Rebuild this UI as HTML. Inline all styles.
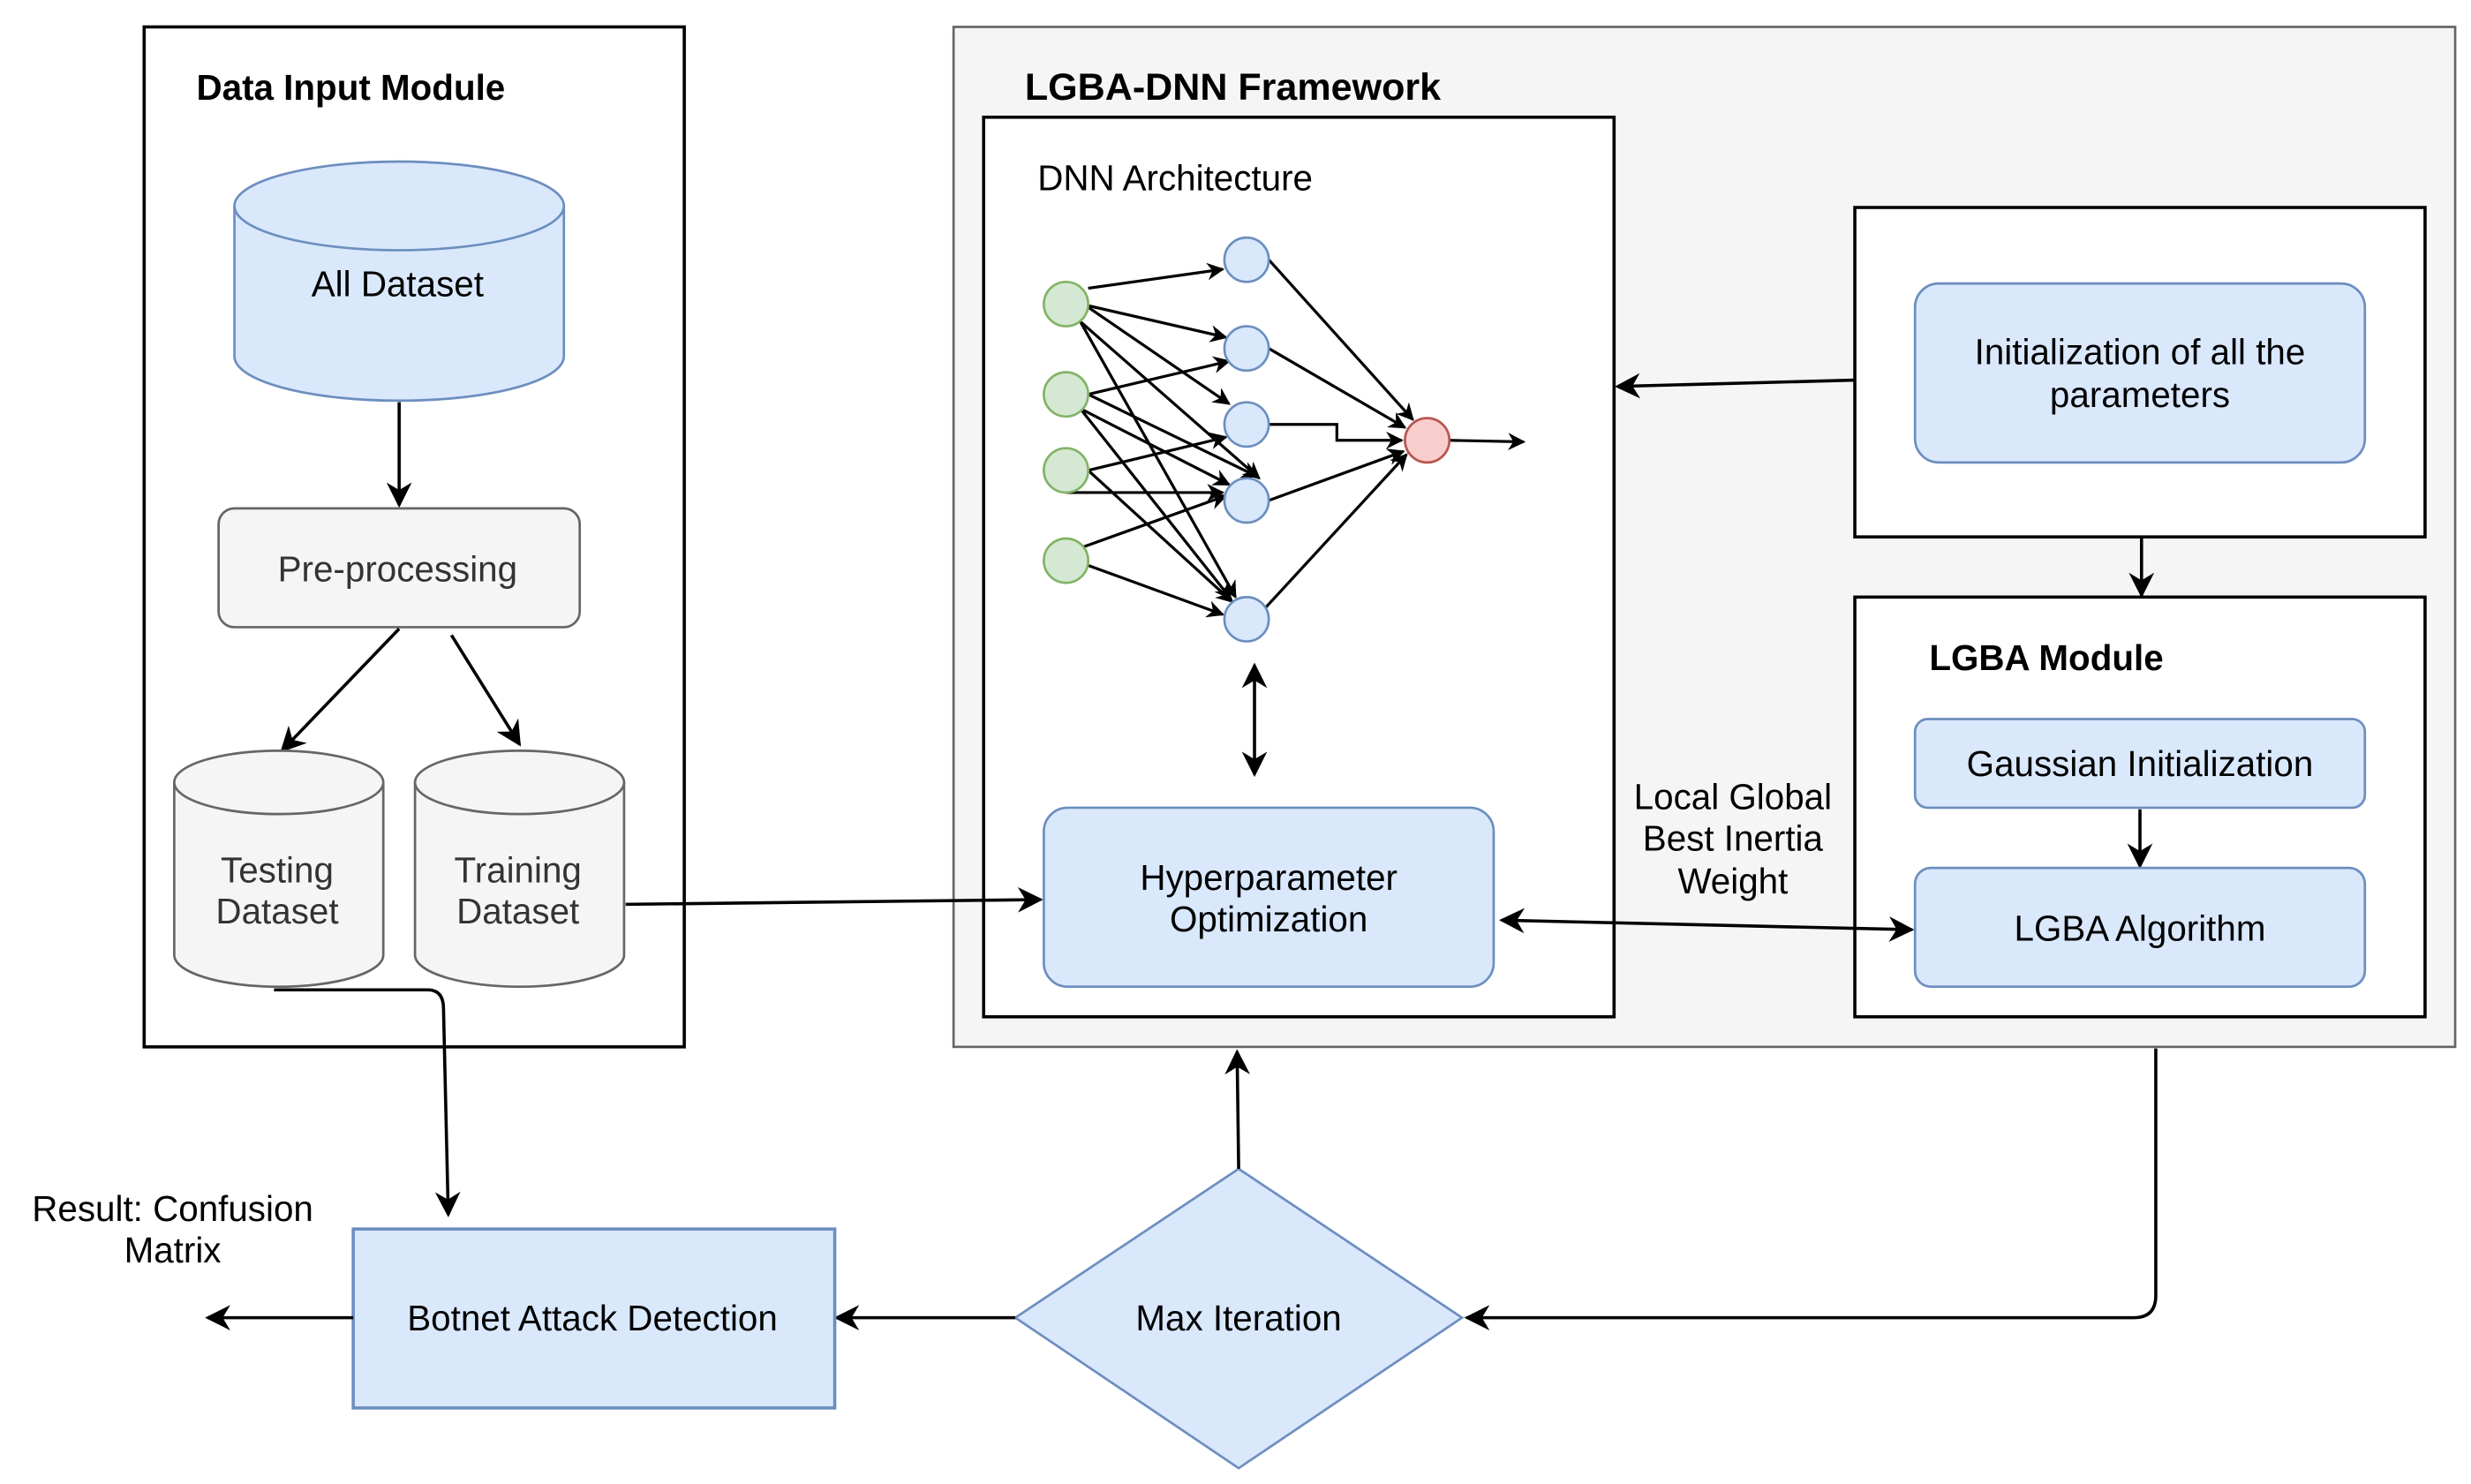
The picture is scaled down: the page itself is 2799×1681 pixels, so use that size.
<!DOCTYPE html>
<html><head><meta charset="utf-8"><style>html,body{margin:0;padding:0;background:#fff}svg{display:block}text{font-family:"Liberation Sans",Arial,sans-serif;fill:#000}</style></head>
<body>
<svg width="2799" height="1681" viewBox="0 0 1560 937" preserveAspectRatio="none" xmlns="http://www.w3.org/2000/svg">
<defs>
<marker id="a" viewBox="0 0 10 10" refX="9" refY="5" markerWidth="11" markerHeight="11" orient="auto-start-reverse" markerUnits="userSpaceOnUse"><path d="M0,0 L10,5 L0,10 L3,5 Z" fill="#000"/></marker>
<marker id="b" viewBox="0 0 10 10" refX="9" refY="5" markerWidth="16" markerHeight="16" orient="auto-start-reverse" markerUnits="userSpaceOnUse"><path d="M0,0 L10,5 L0,10 L3,5 Z" fill="#000"/></marker>
</defs>
<!-- Data Input Module -->
<rect x="91" y="17" width="341" height="644" fill="#fff" stroke="#000" stroke-width="2"/>
<text x="124" y="63" font-size="22.5" font-weight="bold">Data Input Module</text>
<path d="M148,130 L148,225 A104,28 0 0 0 356,225 L356,130" fill="#dae8fc" stroke="#6c8ebf" stroke-width="1.5"/>
<ellipse cx="252" cy="130" rx="104" ry="28" fill="#dae8fc" stroke="#6c8ebf" stroke-width="1.5"/>
<text x="251" y="187" font-size="22.5" text-anchor="middle">All Dataset</text>
<line x1="252" y1="254" x2="252" y2="319" stroke="#000" stroke-width="2" marker-end="url(#b)"/>
<rect x="138" y="321" width="228" height="75" rx="10" fill="#f5f5f5" stroke="#666" stroke-width="1.5"/>
<text x="251" y="367" font-size="22.5" text-anchor="middle" style="fill:#333">Pre-processing</text>
<line x1="252" y1="397" x2="178" y2="474" stroke="#000" stroke-width="2" marker-end="url(#b)"/>
<line x1="285" y1="401" x2="328" y2="470" stroke="#000" stroke-width="2" marker-end="url(#b)"/>
<path d="M110,494 L110,603 A66,20 0 0 0 242,603 L242,494" fill="#f5f5f5" stroke="#666" stroke-width="1.5"/>
<ellipse cx="176" cy="494" rx="66" ry="20" fill="#f5f5f5" stroke="#666" stroke-width="1.5"/>
<text x="175" y="557" font-size="22.5" text-anchor="middle" style="fill:#333">Testing</text>
<text x="175" y="583" font-size="22.5" text-anchor="middle" style="fill:#333">Dataset</text>
<path d="M262,494 L262,603 A66,20 0 0 0 394,603 L394,494" fill="#f5f5f5" stroke="#666" stroke-width="1.5"/>
<ellipse cx="328" cy="494" rx="66" ry="20" fill="#f5f5f5" stroke="#666" stroke-width="1.5"/>
<text x="327" y="557" font-size="22.5" text-anchor="middle" style="fill:#333">Training</text>
<text x="327" y="583" font-size="22.5" text-anchor="middle" style="fill:#333">Dataset</text>
<path d="M173,625 L270,625 Q280,625 280,637 L283,767" fill="none" stroke="#000" stroke-width="2" marker-end="url(#b)"/>
<!-- Framework -->
<rect x="602" y="17" width="948" height="644" fill="#f5f5f5" stroke="#666" stroke-width="1.5"/>
<text x="647" y="63" font-size="24" font-weight="bold">LGBA-DNN Framework</text>
<rect x="621" y="74" width="398" height="568" fill="#fff" stroke="#000" stroke-width="2"/>
<text x="655" y="120" font-size="22.5">DNN Architecture</text>
<line x1="395" y1="571" x2="657" y2="568" stroke="#000" stroke-width="2" marker-end="url(#b)"/>
<g stroke="#000" stroke-width="1.8" fill="none" marker-end="url(#a)">
<line x1="687" y1="182" x2="772" y2="170"/>
<line x1="687" y1="193" x2="774" y2="213"/>
<line x1="687" y1="194" x2="776" y2="255"/>
<line x1="682" y1="203" x2="795" y2="302"/>
<line x1="682" y1="203" x2="780" y2="377"/>
<line x1="687" y1="249" x2="776" y2="228"/>
<line x1="687" y1="249" x2="794" y2="301"/>
<line x1="682" y1="258" x2="776" y2="306"/>
<line x1="682" y1="258" x2="777" y2="378"/>
<line x1="687" y1="297" x2="774" y2="276"/>
<line x1="687" y1="297" x2="778" y2="380"/>
<line x1="673" y1="311" x2="772" y2="311"/>
<line x1="682" y1="346" x2="774" y2="313"/>
<line x1="687" y1="357" x2="772" y2="388"/>
<line x1="801" y1="164" x2="892" y2="265"/>
<line x1="801" y1="220" x2="887" y2="270"/>
<polyline points="801,268 844,268 844,278 885,278"/>
<line x1="801" y1="316" x2="886" y2="285"/>
<line x1="795" y1="388" x2="888" y2="287"/>
<line x1="915" y1="278" x2="962" y2="279"/>
</g>
<g fill="#d5e8d4" stroke="#82b366" stroke-width="1.5">
<circle cx="673" cy="192" r="14"/><circle cx="673" cy="249" r="14"/><circle cx="673" cy="297" r="14"/><circle cx="673" cy="354" r="14"/>
</g>
<g fill="#dae8fc" stroke="#6c8ebf" stroke-width="1.5">
<circle cx="787" cy="164" r="14"/><circle cx="787" cy="220" r="14"/><circle cx="787" cy="268" r="14"/><circle cx="787" cy="316" r="14"/><circle cx="787" cy="391" r="14"/>
</g>
<circle cx="901" cy="278" r="14" fill="#f8cecc" stroke="#b85450" stroke-width="1.5"/>
<line x1="792" y1="420" x2="792" y2="489" stroke="#000" stroke-width="2" marker-start="url(#b)" marker-end="url(#b)"/>
<rect x="659" y="510" width="284" height="113" rx="15" fill="#dae8fc" stroke="#6c8ebf" stroke-width="1.5"/>
<text x="801" y="562" font-size="22.5" text-anchor="middle">Hyperparameter</text>
<text x="801" y="588" font-size="22.5" text-anchor="middle">Optimization</text>
<rect x="1171" y="131" width="360" height="208" fill="#fff" stroke="#000" stroke-width="2"/>
<rect x="1209" y="179" width="284" height="113" rx="15" fill="#dae8fc" stroke="#6c8ebf" stroke-width="1.5"/>
<text x="1351" y="230" font-size="22.5" text-anchor="middle">Initialization of all the</text>
<text x="1351" y="257" font-size="22.5" text-anchor="middle">parameters</text>
<line x1="1171" y1="240" x2="1021" y2="244" stroke="#000" stroke-width="2" marker-end="url(#b)"/>
<line x1="1352" y1="340" x2="1352" y2="376" stroke="#000" stroke-width="2" marker-end="url(#b)"/>
<rect x="1171" y="377" width="360" height="265" fill="#fff" stroke="#000" stroke-width="2"/>
<text x="1218" y="423" font-size="22.5" font-weight="bold">LGBA Module</text>
<rect x="1209" y="454" width="284" height="56" rx="8" fill="#dae8fc" stroke="#6c8ebf" stroke-width="1.5"/>
<text x="1351" y="490" font-size="22.5" text-anchor="middle">Gaussian Initialization</text>
<line x1="1351" y1="511" x2="1351" y2="547" stroke="#000" stroke-width="2" marker-end="url(#b)"/>
<rect x="1209" y="548" width="284" height="75" rx="10" fill="#dae8fc" stroke="#6c8ebf" stroke-width="1.5"/>
<text x="1351" y="594" font-size="22.5" text-anchor="middle">LGBA Algorithm</text>
<line x1="948" y1="581" x2="1207" y2="587" stroke="#000" stroke-width="2" marker-start="url(#b)" marker-end="url(#b)"/>
<text x="1094" y="511" font-size="22.5" text-anchor="middle">Local Global</text>
<text x="1094" y="537" font-size="22.5" text-anchor="middle">Best Inertia</text>
<text x="1094" y="564" font-size="22.5" text-anchor="middle">Weight</text>
<!-- bottom -->
<path d="M1361,662 L1361,818 Q1361,832 1347,832 L926,832" fill="none" stroke="#000" stroke-width="2" marker-end="url(#b)"/>
<polygon points="782,738 923,832 782,927 641,832" fill="#dae8fc" stroke="#6c8ebf" stroke-width="1.5"/>
<text x="782" y="840" font-size="22.5" text-anchor="middle">Max Iteration</text>
<line x1="782" y1="738" x2="781" y2="664" stroke="#000" stroke-width="2" marker-end="url(#b)"/>
<line x1="641" y1="832" x2="528" y2="832" stroke="#000" stroke-width="2" marker-end="url(#b)"/>
<rect x="223" y="776" width="304" height="113" fill="#dae8fc" stroke="#6c8ebf" stroke-width="2"/>
<text x="374" y="840" font-size="22.5" text-anchor="middle">Botnet Attack Detection</text>
<line x1="223" y1="832" x2="131" y2="832" stroke="#000" stroke-width="2" marker-end="url(#b)"/>
<text x="109" y="771" font-size="22.5" text-anchor="middle">Result: Confusion</text>
<text x="109" y="797" font-size="22.5" text-anchor="middle">Matrix</text>
</svg>
</body></html>
